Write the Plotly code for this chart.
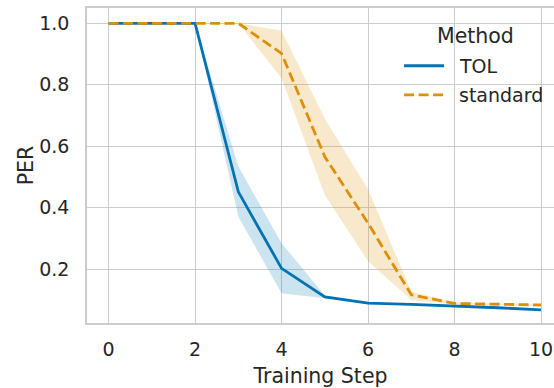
import plotly.graph_objects as go

# Training steps and per-method PER (mean with confidence band)
steps = [0, 1, 2, 3, 4, 5, 6, 7, 8, 9, 10]

tol_mean = [1.0, 1.0, 1.0, 0.452, 0.203, 0.110, 0.090, 0.086, 0.081, 0.075, 0.068]
tol_low = [1.0, 1.0, 1.0, 0.371, 0.122, 0.106, 0.088, 0.084, 0.080, 0.073, 0.067]
tol_high = [1.0, 1.0, 1.0, 0.534, 0.285, 0.115, 0.092, 0.088, 0.082, 0.077, 0.069]

std_mean = [1.0, 1.0, 1.0, 1.0, 0.902, 0.566, 0.350, 0.117, 0.089, 0.086, 0.084]
std_low = [1.0, 1.0, 1.0, 1.0, 0.821, 0.442, 0.226, 0.100, 0.086, 0.084, 0.082]
std_high = [1.0, 1.0, 1.0, 1.0, 0.976, 0.690, 0.460, 0.127, 0.093, 0.088, 0.086]

y_ticks = [0.2, 0.4, 0.6, 0.8, 1.0]
x_ticks = [0, 2, 4, 6, 8, 10]

BLUE = "#0173b2"
ORANGE = "#de8f05"
TEXT = "#262626"
GRID = "#cccccc"
FONT = "DejaVu Sans"

W, H = 554, 388
L, T, B = 86.7, 8.3, 65
plot_w = W - L
plot_h = H - T - B


def px(x):
    return (x - L) / plot_w


def py(y):
    return (H - B - y) / plot_h


fig = go.Figure()

series = [
    ("TOL", tol_mean, tol_low, tol_high, BLUE, "solid", "rgba(1,115,178,0.2)"),
    ("standard", std_mean, std_low, std_high, ORANGE, "10px,4.5px", "rgba(222,143,5,0.2)"),
]

for name, mean, low, high, color, dash, band in series:
    fig.add_trace(go.Scatter(x=steps, y=low, mode="lines", line=dict(width=0),
                             hoverinfo="skip", showlegend=False))
    fig.add_trace(go.Scatter(x=steps, y=high, mode="lines", line=dict(width=0),
                             fill="tonexty", fillcolor=band,
                             hoverinfo="skip", showlegend=False))

for name, mean, low, high, color, dash, band in series:
    fig.add_trace(go.Scatter(x=steps, y=mean, mode="lines", name=name,
                             line=dict(color=color, width=2.8, dash=dash),
                             showlegend=False))

# Legend drawn as shapes and text
leg_x0, leg_x1 = 404, 444
entries = [("TOL", BLUE, "solid", 66), ("standard", ORANGE, "10px,4.5px", 95)]
for label, color, dash, yy in entries:
    fig.add_shape(type="line", xref="paper", yref="paper",
                  x0=px(leg_x0), x1=px(leg_x1), y0=py(yy), y1=py(yy),
                  line=dict(color=color, width=2.8, dash=dash))
    fig.add_annotation(xref="paper", yref="paper", x=px(457), y=py(yy),
                       text=label, showarrow=False, xanchor="left", yanchor="middle",
                       font=dict(family=FONT, size=19, color=TEXT))
fig.add_annotation(xref="paper", yref="paper", x=px(475), y=py(36),
                   text="Method", showarrow=False, xanchor="center", yanchor="middle",
                   font=dict(family=FONT, size=20.5, color=TEXT))

fig.update_layout(
    width=W, height=H,
    margin=dict(l=L, r=0, t=T, b=B, pad=0),
    paper_bgcolor="white", plot_bgcolor="white",
    font=dict(family=FONT, color=TEXT, size=19),
    showlegend=False,
)

fig.update_xaxes(
    range=[-0.5, 10 + (W - (L + 10.5 * plot_w / 10.8)) / (plot_w / 10.8)],
    tickvals=x_ticks, ticktext=[str(v) for v in x_ticks],
    showgrid=True, gridcolor=GRID, gridwidth=1.3,
    showline=True, linecolor=GRID, linewidth=1.6, mirror=True,
    zeroline=False, ticks="", ticklabelstandoff=8,
    tickfont=dict(family=FONT, size=19, color=TEXT),
    title=dict(text="Training Step", font=dict(family=FONT, size=20.5, color=TEXT), standoff=11),
)
fig.update_yaxes(
    range=[0.0254, 1.0498],
    tickvals=y_ticks, ticktext=[f"{v:.1f}" for v in y_ticks],
    showgrid=True, gridcolor=GRID, gridwidth=1.3,
    showline=True, linecolor=GRID, linewidth=1.6,
    zeroline=False, ticks="", ticklabelstandoff=12,
    tickfont=dict(family=FONT, size=19, color=TEXT),
    title=dict(text="PER", font=dict(family=FONT, size=20.5, color=TEXT), standoff=0),
)

fig.write_html("out.html")
